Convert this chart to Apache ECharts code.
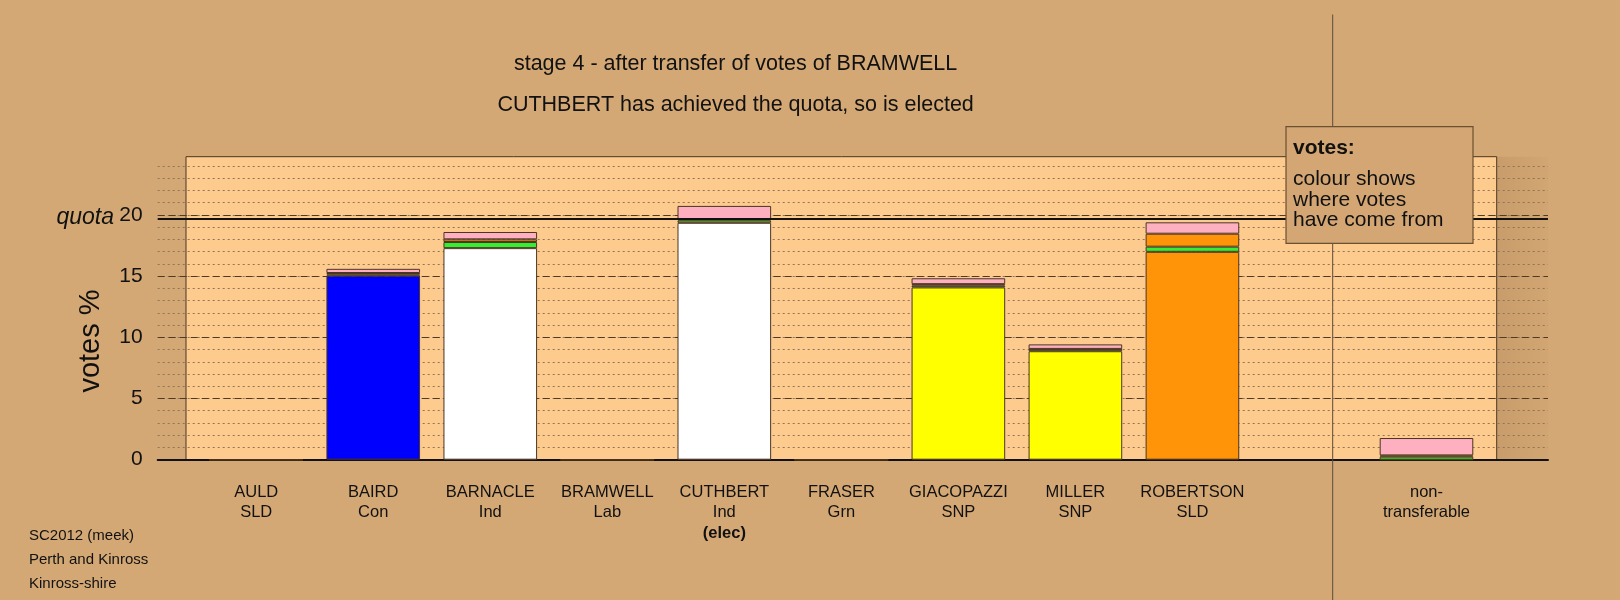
<!DOCTYPE html>
<html>
<head>
<meta charset="utf-8">
<script src="https://cdn.jsdelivr.net/npm/echarts@6/dist/echarts.min.js"></script>
<style>
html,body{margin:0;padding:0;background:#d4a875;}
#c{width:1620px;height:600px;}
</style>
</head>
<body>
<div id="c"></div>
<script>
// ---- data ----
const names   = ['AULD','BAIRD','BARNACLE','BRAMWELL','CUTHBERT','FRASER','GIACOPAZZI','MILLER','ROBERTSON','','non-'];
const parties = ['SLD','Con','Ind','Lab','Ind','Grn','SNP','SNP','SLD','','transferable'];
const status  = ['','','','','(elec)','','','','','',''];
const original = [0, 15.03, 17.28, 0, 19.35, 0, 14.07, 8.86, 16.98, null, 0];
const fromGrn  = [0, 0.10, 0.50, 0, 0.20, 0, 0.15, 0.16, 0.42, null, 0.25];
const fromSLD  = [0, 0.12, 0.22, 0, 0.10, 0, 0.12, 0.03, 1.06, null, 0.10];
const fromLab  = [0, 0.34, 0.60, 0, 1.08, 0, 0.48, 0.37, 0.93, null, 1.42];
const quota = 19.71;
const yTicks = [0, 5, 10, 15, 20];
const titleLines = ['stage 4 - after transfer of votes of BRAMWELL', 'CUTHBERT has achieved the quota, so is elected'];
const noteLines = ['votes:', 'colour shows', 'where votes', 'have come from'];
const footerLines = ['SC2012 (meek)', 'Perth and Kinross', 'Kinross-shire'];

const partyColours = {SLD:'#ff9408', Con:'#0000ff', Ind:'#ffffff', Lab:'#ffb0c0', Grn:'#33ee33', SNP:'#ffff00', transferable:'#cccccc'};

// ---- layout ----
const L = 157.7, R = 1548, BL = 186, BR = 1496.7, T = 156.7, B = 459.7, YMAX = 24.75;
const FONT = '"Liberation Sans", Arial, sans-serif';
const border = '#4a3522';

const chart = echarts.init(document.getElementById('c'));

function seg(arr, colourFn) {
  return arr.map((v, i) => v === null ? null : ({value: v, itemStyle: {color: colourFn(i)}}));
}

const barCommon = {
  type: 'bar', xAxisIndex: 3, yAxisIndex: 3, stack: 'v', barWidth: '80%',
  itemStyle: {borderColor: border, borderWidth: 1}, silent: true, animation: false
};

chart.setOption({
  backgroundColor: '#d4a875',
  animation: false,
  textStyle: {fontFamily: FONT},
  grid: [
    {left: BL, top: T, width: BR - BL, height: B - T, show: true, backgroundColor: '#fecb8f', borderColor: border, borderWidth: 1, z: -1},
    {left: L, top: T, width: R - L, height: B - T},
    {left: L, top: T, width: R - L, height: B - T},
    {left: BL + 0.1 * (BR - BL) / 11.2, top: T, width: (BR - BL) * 11 / 11.2, height: B - T}
  ],
  xAxis: [
    {gridIndex: 0, type: 'value', show: false},
    {gridIndex: 1, type: 'value', show: false},
    {gridIndex: 2, type: 'value', min: 0, max: 1, axisLine: {show: true, lineStyle: {color: '#111', width: 2}},
      axisTick: {show: false}, axisLabel: {show: false}, splitLine: {show: false}},
    {gridIndex: 3, type: 'category', data: names, axisLine: {show: false}, axisTick: {show: false},
      axisLabel: {
        interval: 0, margin: 22, color: '#111', fontSize: 16.5, lineHeight: 20.7, fontFamily: FONT,
        formatter: (v, i) => names[i] + '\n' + parties[i] + (status[i] ? '\n{b|' + status[i] + '}' : ''),
        rich: {b: {fontWeight: 'bold', fontSize: 16.5, lineHeight: 20.7, color: '#111', fontFamily: FONT}}
      }}
  ],
  yAxis: [
    {gridIndex: 0, type: 'value', min: 0, max: YMAX, show: false},
    {gridIndex: 1, type: 'value', min: 0, max: YMAX, interval: 1, axisLine: {show: false}, axisTick: {show: false},
      axisLabel: {show: false}, splitLine: {show: true, showMaxLine: false, lineStyle: {color: '#8f7458', width: 1, type: [2, 3]}}},
    {gridIndex: 2, type: 'value', min: 0, max: YMAX, interval: 5, axisLine: {show: false}, axisTick: {show: false},
      axisLabel: {show: true, margin: 15, fontSize: 21, color: '#111', fontFamily: FONT,
        formatter: v => yTicks.indexOf(v) >= 0 ? String(v) : ''},
      splitLine: {show: true, showMaxLine: false, lineStyle: {color: '#4e3a26', width: 1, type: [7, 4]}}},
    {gridIndex: 3, type: 'value', min: 0, max: YMAX, show: false}
  ],
  series: [
    Object.assign({name: 'original', data: seg(original, i => partyColours[parties[i]])}, barCommon),
    Object.assign({name: 'FRASER (Grn)', data: seg(fromGrn, () => partyColours.Grn)}, barCommon),
    Object.assign({name: 'AULD (SLD)', data: seg(fromSLD, () => partyColours.SLD)}, barCommon),
    Object.assign({name: 'BRAMWELL (Lab)', data: seg(fromLab, () => partyColours.Lab)}, barCommon),
    {type: 'line', xAxisIndex: 2, yAxisIndex: 2, data: [], silent: true,
      markLine: {symbol: 'none', silent: true, label: {show: false}, animation: false,
        lineStyle: {color: '#111', type: 'solid', width: 2}, data: [{yAxis: quota}]}}
  ],
  graphic: [
    {type: 'rect', z: -5, silent: true, shape: {x: BR, y: T, width: R - BR, height: B - T},
      style: {fill: new echarts.graphic.LinearGradient(0, 0, 1, 0, [{offset: 0, color: '#c89d6b'}, {offset: 1, color: '#d2a672'}])}},
    {type: 'line', z: 40, silent: true, shape: {x1: 1332.7, y1: 14.5, x2: 1332.7, y2: 600},
      style: {stroke: '#5a4a3a', lineWidth: 1}},
    {type: 'rect', z: 50, silent: true, shape: {x: 1286, y: 126.7, width: 187, height: 116.6},
      style: {fill: '#d3a673', stroke: '#6a5030', lineWidth: 1.2}},
    {type: 'text', z: 51, silent: true, x: 1293, y: 148, style: {text: noteLines[0], font: 'bold 21px ' + FONT, fill: '#111', textVerticalAlign: 'middle'}},
    {type: 'text', z: 51, silent: true, x: 1293, y: 179.5, style: {text: noteLines[1], font: '21px ' + FONT, fill: '#111', textVerticalAlign: 'middle'}},
    {type: 'text', z: 51, silent: true, x: 1293, y: 200, style: {text: noteLines[2], font: '21px ' + FONT, fill: '#111', textVerticalAlign: 'middle'}},
    {type: 'text', z: 51, silent: true, x: 1293, y: 220.5, style: {text: noteLines[3], font: '21px ' + FONT, fill: '#111', textVerticalAlign: 'middle'}},
    {type: 'text', silent: true, x: 735.6, y: 64.5, style: {text: titleLines[0], font: '21.5px ' + FONT, fill: '#111', textAlign: 'center', textVerticalAlign: 'middle'}},
    {type: 'text', silent: true, x: 735.6, y: 105, style: {text: titleLines[1], font: '21.5px ' + FONT, fill: '#111', textAlign: 'center', textVerticalAlign: 'middle'}},
    {type: 'text', silent: true, x: 91, y: 341, rotation: Math.PI / 2, style: {text: 'votes %', font: '29px ' + FONT, fill: '#111', textAlign: 'center', textVerticalAlign: 'middle'}},
    {type: 'text', silent: true, x: 114, y: 218, style: {text: 'quota', font: 'italic 23px ' + FONT, fill: '#111', textAlign: 'right', textVerticalAlign: 'middle'}},
    {type: 'text', silent: true, x: 29, y: 535.5, style: {text: footerLines[0], font: '15px ' + FONT, fill: '#111', textVerticalAlign: 'middle'}},
    {type: 'text', silent: true, x: 29, y: 559.5, style: {text: footerLines[1], font: '15px ' + FONT, fill: '#111', textVerticalAlign: 'middle'}},
    {type: 'text', silent: true, x: 29, y: 584, style: {text: footerLines[2], font: '15px ' + FONT, fill: '#111', textVerticalAlign: 'middle'}}
  ]
});
</script>
</body>
</html>
